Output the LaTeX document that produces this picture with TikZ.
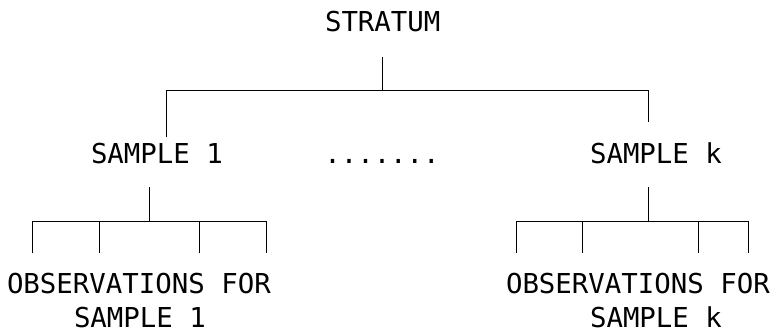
\documentclass[tikz,border=0pt]{standalone}
\usepackage{fontspec}
\newfontfamily\asciimono{DejaVu Sans Mono}
\begin{document}
\begin{tikzpicture}[x=1pt,y=-1pt,
  lbl/.style={inner sep=0pt,outer sep=0pt,font=\asciimono\fontsize{27.4}{33}\selectfont,anchor=base west},
  conn/.style={draw=black,line width=1pt}]
\useasboundingbox (0,0) rectangle (775,329);
% texts
\node[lbl] (stratum) at (325,32) {STRATUM};
\node[lbl] (s1) at (91,163) {SAMPLE 1};
\node[lbl,anchor=base] (dots) at (382,163) {.......};
\node[lbl] (sk) at (590,163) {SAMPLE k};
\node[lbl] (o1a) at (7,293) {OBSERVATIONS FOR};
\node[lbl] (o1b) at (74,327) {SAMPLE 1};
\node[lbl] (oka) at (506,293) {OBSERVATIONS FOR};
\node[lbl] (okb) at (590,327) {SAMPLE k};
% junction coordinates
\coordinate (st) at (382,57);
\coordinate (sj) at (382,90);
\coordinate (l1) at (166,137);
\coordinate (r1) at (648,122);
\coordinate (t1) at (149,187);
\coordinate (j1) at (149,221);
\coordinate (a1) at (32,253);
\coordinate (a2) at (99,253);
\coordinate (a3) at (199,253);
\coordinate (a4) at (266,253);
\coordinate (tk) at (648,187);
\coordinate (jk) at (648,221);
\coordinate (b1) at (516,253);
\coordinate (b2) at (582,253);
\coordinate (b3) at (698,253);
\coordinate (b4) at (748,253);
% top tree
\draw[conn] (st) -- (sj);
\draw[conn] (l1) -- (l1 |- sj) -- (r1 |- sj) -- (r1);
% left subtree
\draw[conn] (t1) -- (j1);
\draw[conn] (a1) -- (a1 |- j1) -- (a4 |- j1) -- (a4);
\draw[conn] (a2) -- (a2 |- j1);
\draw[conn] (a3) -- (a3 |- j1);
% right subtree
\draw[conn] (tk) -- (jk);
\draw[conn] (b1) -- (b1 |- jk) -- (b4 |- jk) -- (b4);
\draw[conn] (b2) -- (b2 |- jk);
\draw[conn] (b3) -- (b3 |- jk);
\end{tikzpicture}
\end{document}
